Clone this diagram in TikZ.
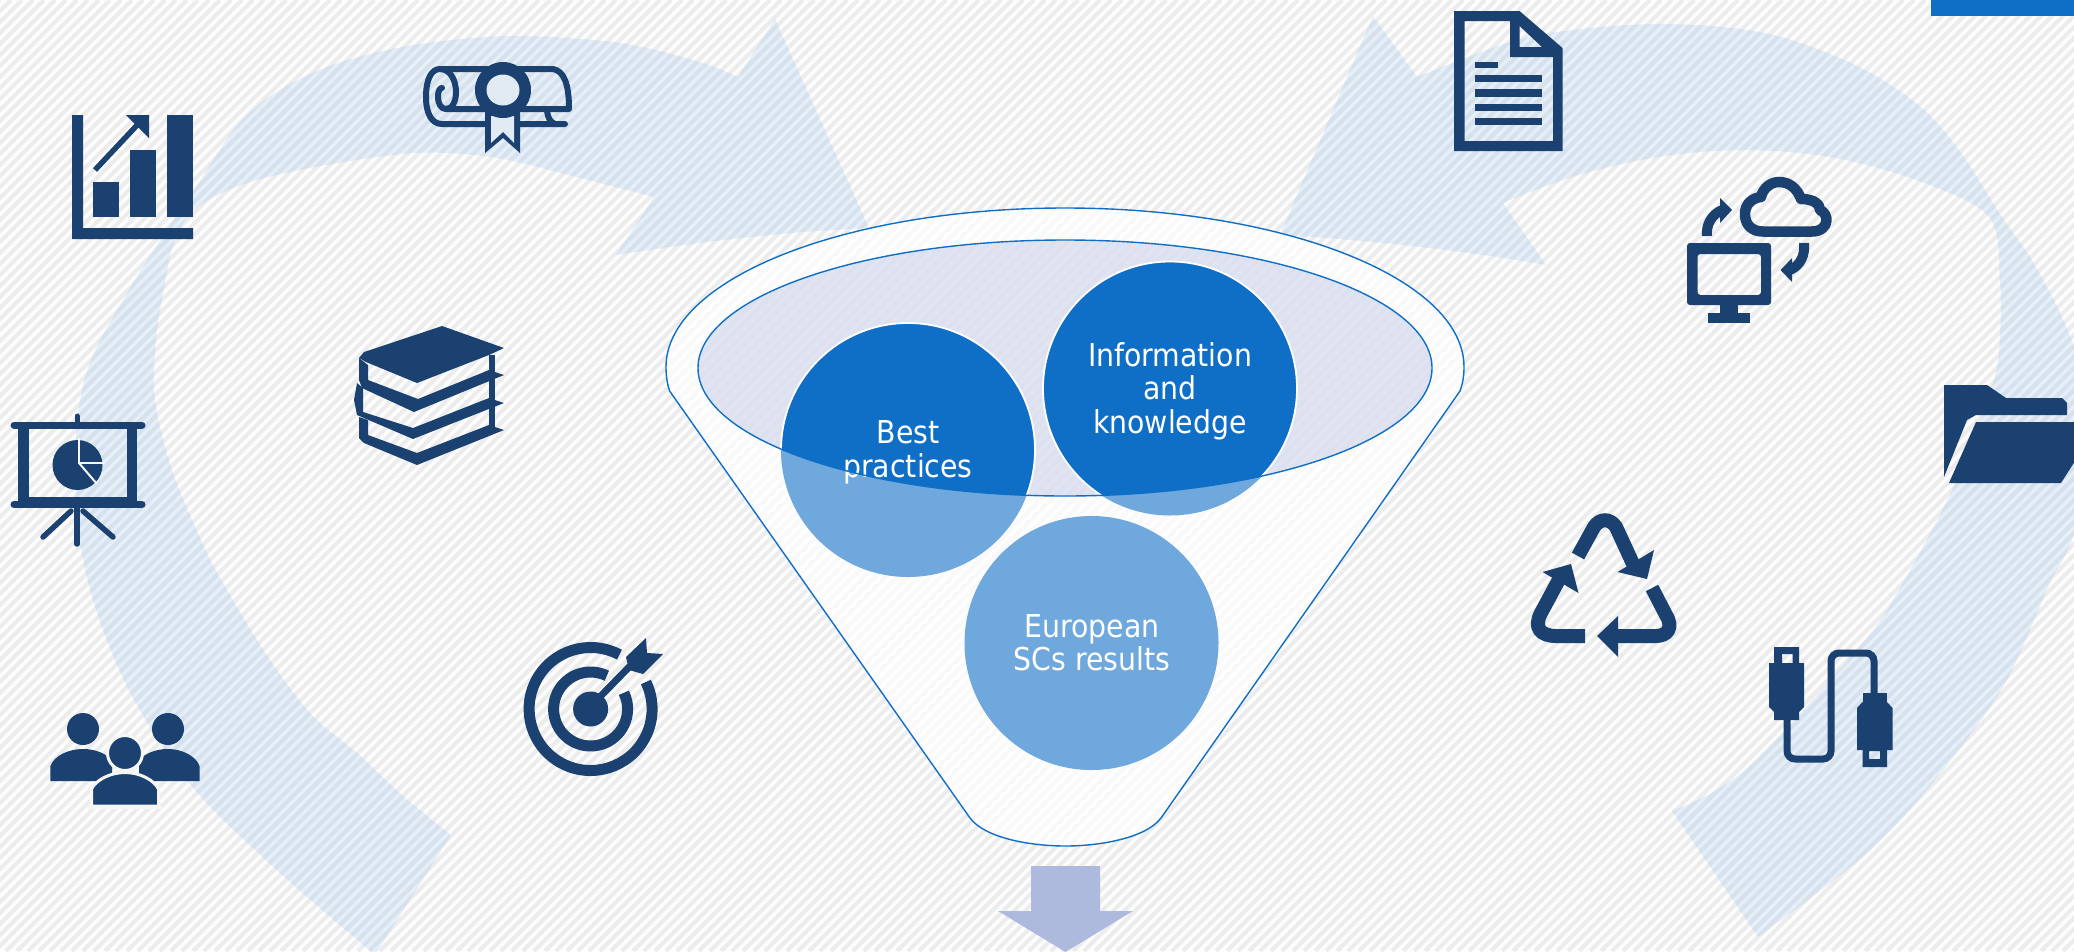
\documentclass[tikz,border=0pt]{standalone}
\usepackage{fontspec}
\setmainfont{DejaVu Sans Condensed}
\definecolor{iconblue}{HTML}{1A4170}
\definecolor{funnelblue}{HTML}{0F6FC6}
\definecolor{lightcircle}{HTML}{6FA8DC}
\definecolor{bandblue}{HTML}{85B7EE}
\definecolor{downarrow}{HTML}{AEBADD}
\definecolor{lavender}{HTML}{C3CBE6}
\definecolor{paper}{HTML}{FDFDFD}
\definecolor{stripe}{HTML}{ECECEC}
\definecolor{gapcolor}{HTML}{F6F6F6}
\definecolor{sealgap}{HTML}{E2EAF3}
\tikzset{
  stripeline/.style={draw=stripe,line width=4pt},
  band/.style={fill=bandblue,fill opacity=.2},
  funnelline/.style={draw=funnelblue,line width=1.4pt},
  icon/.style={fill=iconblue},
  iconline/.style={draw=iconblue,line width=#1},
  iconline/.default=5pt,
  circletext/.style={text=white,align=center,font=\fontsize{31.5}{33.5}\selectfont,inner sep=0pt},
}
\begin{document}
\begin{tikzpicture}[x=1pt,y=-1pt]
\useasboundingbox (0,0) rectangle (2074,951);
\clip (0,0) rectangle (2074,951);
\fill[paper] (0,0) rectangle (2074,951);
\foreach \i in {-951,-940,...,2074} \draw[stripeline] (\i,951) -- ++(951,-951);

% curved arrows
\fill[band] plot[smooth,tension=.55] coordinates {(375,955)(280,873)(195,790)(134,700)(96,610)(78,530)(76,470)(78,413)(94,353)(143,267)(196,187)(245,117)(312,73)(402,47)(509,36)(620,43)(700,62)(738,77)}
  -- (775,19) -- (869,228) .. controls (780,232) and (700,242) .. (616,255) -- (654,197)
  -- plot[smooth,tension=.55] coordinates {(654,197)(576,177)(491,157)(402,154)(268,177)(200,205)(175,240)(165,283)(156,340)(155,400)(172,470)(201,540)(223,583)(268,657)(312,715)(357,753)(402,795)(451,835)} -- cycle;
\fill[band] plot[smooth,tension=.55] coordinates {(1758,937)(1821,890)(1878,843)(1935,780)(2003,687)(2048,587)(2074,533)(2090,440)(2074,347)(2036,267)(2002,217)(1959,150)(1916,103)(1851,63)(1765,33)(1667,24)(1572,30)(1507,43)(1417,77)}
  -- (1373,16) -- (1280,235) .. controls (1370,240) and (1460,250) .. (1546,265) -- (1503,203)
  -- plot[smooth,tension=.55] coordinates {(1503,203)(1572,177)(1658,157)(1744,150)(1830,157)(1916,180)(1989,217)(2000,283)(2000,333)(1993,383)(1952,490)(1897,593)(1859,647)(1745,770)(1672,811)} -- cycle;

% top-right bar
\fill[funnelblue] (1931,0) rectangle (2074,16);

% funnel
\path[fill=white,fill opacity=.72,funnelline,draw opacity=1]
  (669.6,391) .. controls (667,383) and (666,375) .. (666,367)
  arc[start angle=180,end angle=360,x radius=399,y radius=159]
  .. controls (1464,375) and (1463,383) .. (1460,391)
  -- (1161,818) .. controls (1146,838) and (1100,846) .. (1065.5,846)
  .. controls (1030,846) and (985,838) .. (970,818) -- cycle;
\fill[lavender,fill opacity=.5] (1065,368) ellipse [x radius=367,y radius=128];

% circles
\fill[lightcircle] (908,450) circle [radius=127];
\fill[lightcircle] (1170,388.5) circle [radius=127];
\fill[lightcircle] (1091.5,643) circle [radius=127];
\begin{scope}
  \clip (1065,368) ellipse [x radius=367,y radius=128];
  \fill[funnelblue] (908,450) circle [radius=127];
  \fill[funnelblue] (1170,388.5) circle [radius=127];
  \draw[white,line width=1.8pt] (908,450) circle [radius=127];
  \draw[white,line width=1.8pt] (1170,388.5) circle [radius=127];
\end{scope}
\node[circletext] (best) at (908,452.5) {Best\\practices};
\node[circletext] (info) at (1170,391) {Information\\and\\knowledge};
\node[circletext] (euro) at (1092,642.5) {European\\SCs results};
\draw[funnelline] (1065,368) ellipse [x radius=367,y radius=128];

% down arrow
\fill[downarrow] (1031,866) -- (1100,866) -- (1100,911) -- (1133,911) -- (1065.5,952) -- (998,911) -- (1031,911) -- cycle;

% bar chart icon
\fill[icon] (72,115) -- (83,115) -- (83,228) -- (193,228) -- (193,239) -- (72,239) -- cycle;
\fill[icon] (93,182) rectangle (119,217);
\fill[icon] (130,150) rectangle (156,217);
\fill[icon] (167,115) rectangle (193,217);
\draw[iconline=5.5pt] (95,170) -- (140,122);
\fill[icon] (126,115) -- (149,115) -- (149,138) -- cycle;

% diploma icon
\begin{scope}[iconline=6pt,line join=round,line cap=round]
  \draw (553,69) .. controls (564,71) and (569,84) .. (569,109) -- (446,109)
    .. controls (441,109) and (438,104) .. (438,96) .. controls (438,91) and (440,88) .. (442,88);
  \draw (553,69) -- (440,69) .. controls (431,69) and (426,80) .. (426,97)
    .. controls (426,114) and (432,124) .. (442,124) -- (565,124);
  \draw (440,69) .. controls (450,69) and (456,80) .. (456,92) .. controls (456,102) and (452,109) .. (446,109);
  \draw (547,111) .. controls (548,118) and (550,122) .. (555,124);
\end{scope}
\fill[icon] (485,112) -- (520,112) -- (520,153) -- (503,138) -- (485,153) -- cycle;
\fill[sealgap] (491,116) -- (514,116) -- (514,143) -- (503,132) -- (491,143) -- cycle;
\fill[icon] (503,90) ellipse [x radius=28,y radius=28];
\fill[sealgap] (503,90) ellipse [x radius=16.5,y radius=15.5];

% books icon
\fill[icon] (442,326) -- (504,348) -- (489,355) -- (417,383) -- (366,362) -- (359,358) -- (364,352) -- cycle;
\fill[icon] (359,358) -- (368,365) -- (368,380) -- (418,399) -- (489,370) -- (504,375) -- (414,412) -- (362,388) -- (359,380) -- cycle;
\fill[icon] (357,383) -- (363,388) -- (363,412) -- (413,428) -- (489,398) -- (504,403) -- (413,439) -- (357,415) -- (354,400) -- cycle;
\fill[icon] (359,417) -- (368,420) -- (368,435) -- (417,453) -- (489,425) -- (504,430) -- (417,465) -- (364,443) -- (359,438) -- cycle;
\fill[icon] (489,355) rectangle (495,428);

% presentation icon
\draw[iconline=7pt,line cap=round] (14,425) -- (142,425);
\draw[iconline=7pt,line cap=round] (14,504.5) -- (142,504.5);
\draw[iconline=5pt,line cap=round] (77,416) -- (77,424);
\fill[icon] (18,425) rectangle (29,500);
\fill[icon] (127,425) rectangle (137,500);
\fill[icon] (18,497) rectangle (137,505);
\draw[iconline=5.5pt,line cap=round] (77,508) -- (77,544);
\draw[iconline=5.5pt,line cap=round] (71,511) -- (43,537);
\draw[iconline=5.5pt,line cap=round] (83,511) -- (113,537);
\fill[icon] (77.5,465) circle [radius=25];
\draw[gapcolor,line width=2pt] (79,438) -- (79,463) -- (104,463);
\draw[gapcolor,line width=2pt] (79,463) -- (97,484);

% people icon
\fill[icon] (83,729) circle [radius=16];
\fill[icon] (168,729) circle [radius=16];
\fill[icon] (50.4,781) -- (50.4,766) .. controls (54,756) and (68,749) .. (83,749) .. controls (95,749) and (105,753) .. (112,760) -- (112,781) -- cycle;
\fill[icon] (199.5,781) -- (199.5,766) .. controls (196,756) and (182,749) .. (168,749) .. controls (156,749) and (146,753) .. (139,760) -- (139,781) -- cycle;
\draw[gapcolor,line width=3pt,fill=iconblue] (125,753) circle [radius=17.5];
\path[fill=iconblue,draw=gapcolor,line width=3pt] (91.5,806) -- (91.5,789) .. controls (96,780) and (110,772.5) .. (125,772.5) .. controls (140,772.5) and (154,780) .. (158.5,789) -- (158.5,806) -- cycle;
\draw[gapcolor,line width=3.5pt] (88,807.5) -- (162,807.5);

% target icon
\draw[iconline=11pt] (590.6,709) ++(-62:61.5) arc[start angle=-62,end angle=-386,radius=61.5];
\draw[iconline=11pt] (590.6,709) ++(-64:37) arc[start angle=-64,end angle=-386,radius=37];
\fill[icon] (590.6,709) circle [radius=17.5];
\draw[iconline=7pt] (592,705) -- (632,664);
\fill[icon] (646,638) -- (647,653) -- (663,654) -- (643,674) -- (629,670) -- (626,657) -- cycle;

% document icon
\fill[icon,even odd rule]
  (1454,11) -- (1519.5,11) -- (1562.5,48) -- (1562.5,151) -- (1454,151) -- cycle
  (1464.5,21) -- (1510,21) -- (1510,57) -- (1553,57) -- (1553,141) -- (1464.5,141) -- cycle
  (1519.5,26) -- (1519.5,47) -- (1542,47) -- cycle;
\fill[icon] (1475,62) rectangle (1498,68);
\fill[icon] (1475,75) rectangle (1542,82);
\fill[icon] (1475,89) rectangle (1542,97);
\fill[icon] (1475,104) rectangle (1542,111);
\fill[icon] (1475,118) rectangle (1542,125);

% cloud and monitor icon
\fill[icon,even odd rule,rounded corners=3pt] (1687,243) rectangle (1771,305) (1697.5,254) rectangle (1761,295);
\fill[icon] (1720,305) rectangle (1737.5,313);
\fill[icon] (1708,313) rectangle (1750,323);
\draw[iconline=10.5pt,line join=round] (1763,231.5)
  .. controls (1752,231.5) and (1745,225) .. (1745,214)
  .. controls (1745,204) and (1752,198) .. (1761,197)
  .. controls (1763,188) and (1771,182) .. (1779,182)
  .. controls (1789,182) and (1797,188) .. (1801,199)
  .. controls (1815,199) and (1820,205) .. (1820,210)
  .. controls (1825,212) and (1826.5,217) .. (1826.5,220)
  .. controls (1826.5,227) and (1820,231.5) .. (1812,231.5) -- cycle;
\draw[iconline=10pt] (1707,236) .. controls (1706,225) and (1711,215) .. (1722,210);
\fill[icon] (1720,198) -- (1732,210) -- (1720,223) -- cycle;
\draw[iconline=10pt] (1804,243) .. controls (1805,255) and (1801,265) .. (1790,270);
\fill[icon] (1792,258) -- (1780.5,270) -- (1792,282) -- cycle;

% folder icon
\fill[icon] (1944,385) -- (1987,385) -- (2006,398) -- (2062,398) -- (2067,403) -- (2067,415) -- (1976,415) -- (1967,420) -- (1944,477) -- cycle;
\fill[icon] (1976,422) -- (2100,422) -- (2061,483) -- (1949,483) -- cycle;

% recycle icon
\draw[iconline=14pt] (1578,556) -- (1594,527) .. controls (1600,518) and (1610,518) .. (1616,527) -- (1634,566);
\fill[icon] (1647,579) -- (1654,550) -- (1617.5,572) -- cycle;
\draw[iconline=14pt] (1652,588) -- (1666,615) .. controls (1674,628) and (1667,636) .. (1656,636) -- (1616,636);
\fill[icon] (1597,636) -- (1618,616) -- (1618,657) -- cycle;
\draw[iconline=14pt] (1585,636) -- (1556,636) .. controls (1541,636) and (1533,628) .. (1541,613) -- (1563,572);
\fill[icon] (1571,564) -- (1542.5,572) -- (1578.5,593) -- cycle;

% usb icon
\draw[iconline=7pt,rounded corners=8pt] (1787,715) -- (1787,759) -- (1831,759) -- (1831,653) -- (1874,653) -- (1874,700);
\fill[icon,even odd rule] (1774,647) rectangle (1799,663) (1782,654) rectangle (1792.5,663);
\fill[icon] (1769,663) -- (1804,663) -- (1804,707) -- (1799,712) -- (1799,720) -- (1774,720) -- (1774,712) -- (1769,707) -- cycle;
\fill[icon] (1862.5,693) rectangle (1887,702);
\fill[icon] (1862.5,702) -- (1887,702) -- (1892.5,708) -- (1892.5,750) -- (1857,750) -- (1857,708) -- cycle;
\fill[icon,even odd rule] (1862.5,750) rectangle (1887,767) (1869,751) rectangle (1880,759);
\end{tikzpicture}
\end{document}
